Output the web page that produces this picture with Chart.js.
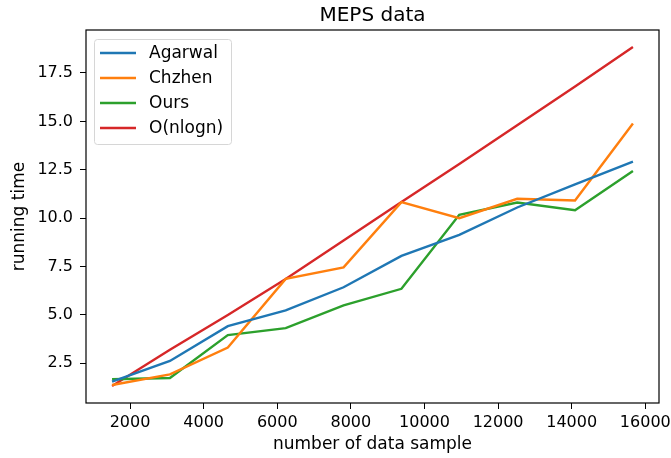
<!DOCTYPE html>
<html>
<head>
<meta charset="utf-8">
<script src="https://cdn.jsdelivr.net/npm/chart.js@4.4.1/dist/chart.umd.min.js"></script>
<style>
    html, body { margin: 0; padding: 0; background: white; }
    #wrap { width: 671px; height: 458px; }
</style>
</head>
<body>
<div id="wrap"><canvas id="chart" width="671" height="458"></canvas></div>
<script>
// number of data samples (x positions)
const samples = [1512, 3084, 4657, 6229, 7802, 9374, 10946, 12519, 14091, 15664];

const agarwal = [1.55, 2.62, 4.42, 5.23, 6.43, 8.05, 9.14, 10.55, 11.75, 12.92];
const chzhen = [1.38, 1.93, 3.31, 6.86, 7.46, 10.83, 10.0, 11.0, 10.91, 14.89];
const ours = [1.68, 1.74, 3.96, 4.32, 5.49, 6.35, 10.17, 10.81, 10.41, 12.44];
const nlogn = [1.33, 3.2, 5.0, 6.86, 8.85, 10.83, 12.8, 14.8, 16.8, 18.84];

const seriesNames = ['Agarwal', 'Chzhen', 'Ours', 'O(nlogn)'];
const seriesColors = ['#1f77b4', '#ff7f0e', '#2ca02c', '#d62728'];

const xTicks = [2000, 4000, 6000, 8000, 10000, 12000, 14000, 16000];
const yTicks = [2.5, 5.0, 7.5, 10.0, 12.5, 15.0, 17.5];

const chartTitle = 'MEPS data';

const FONT = 'DejaVu Sans';
Chart.defaults.font.family = FONT;
Chart.defaults.color = '#000';

function toPoints(values) {
    return values.map((v, i) => ({ x: samples[i], y: v }));
}

// frame around the plot area (matplotlib spines) + title centred on it
const framePlugin = {
    id: 'frame',
    afterDatasetsDraw(chart) {
        const { ctx, chartArea } = chart;
        ctx.save();
        ctx.strokeStyle = '#000';
        ctx.lineWidth = 1.2;
        ctx.strokeRect(chartArea.left, chartArea.top,
            chartArea.right - chartArea.left, chartArea.bottom - chartArea.top);

        ctx.font = `20px ${FONT}`;
        ctx.fillStyle = '#000';
        ctx.textAlign = 'center';
        ctx.textBaseline = 'alphabetic';
        ctx.fillText(chartTitle, (chartArea.left + chartArea.right) / 2, 21);
        ctx.restore();
    }
};

// legend box drawn inside the plot, upper left
const insideLegend = {
    id: 'insideLegend',
    afterDraw(chart) {
        const { ctx, chartArea } = chart;
        const left = chartArea.left + 8;
        const top = chartArea.top + 9;
        const w = 137, h = 105;
        ctx.save();
        ctx.beginPath();
        ctx.roundRect(left + 0.5, top + 0.5, w, h, 3);
        ctx.fillStyle = 'rgba(255,255,255,0.8)';
        ctx.fill();
        ctx.strokeStyle = '#d6d6d6';
        ctx.lineWidth = 1;
        ctx.stroke();

        ctx.font = `17px ${FONT}`;
        ctx.textBaseline = 'middle';
        ctx.textAlign = 'left';
        chart.data.datasets.forEach((ds, i) => {
            const y = top + 14 + i * 25;
            ctx.beginPath();
            ctx.moveTo(left + 6, y);
            ctx.lineTo(left + 42, y);
            ctx.strokeStyle = ds.borderColor;
            ctx.lineWidth = 2.4;
            ctx.stroke();
            ctx.fillStyle = '#000';
            ctx.fillText(ds.label, left + 55, y + 1);
        });
        ctx.restore();
    }
};

const allSeries = [agarwal, chzhen, ours, nlogn];

new Chart(document.getElementById('chart'), {
    type: 'line',
    data: {
        datasets: allSeries.map((values, i) => ({
            label: seriesNames[i],
            data: toPoints(values),
            borderColor: seriesColors[i],
            backgroundColor: seriesColors[i],
            borderWidth: 2.4,
            pointRadius: 0,
            tension: 0,
            fill: false
        }))
    },
    options: {
        responsive: false,
        animation: false,
        layout: { padding: { left: 0, right: 12, top: 30, bottom: 0 } },
        plugins: {
            legend: { display: false },
            tooltip: { enabled: false },
            title: { display: false }
        },
        scales: {
            x: {
                type: 'linear',
                min: 804,
                max: 16372,
                afterBuildTicks(scale) {
                    scale.ticks = xTicks.map(v => ({ value: v }));
                },
                afterFit(scale) {
                    scale.height = 55;
                    scale.paddingLeft = 0;
                    scale.paddingRight = 0;
                },
                ticks: {
                    font: { size: 16 },
                    padding: 4,
                    maxRotation: 0,
                    callback: v => String(v)
                },
                grid: {
                    drawOnChartArea: false,
                    tickLength: 6,
                    tickColor: '#000',
                    tickWidth: 1
                },
                border: { display: false },
                title: {
                    display: true,
                    text: 'number of data sample',
                    font: { size: 17 },
                    padding: { top: 0, bottom: 3 }
                }
            },
            y: {
                type: 'linear',
                min: 0.45,
                max: 19.72,
                afterBuildTicks(scale) {
                    scale.ticks = yTicks.map(v => ({ value: v }));
                },
                afterFit(scale) {
                    scale.width = 86;
                    scale.paddingTop = 0;
                    scale.paddingBottom = 0;
                },
                ticks: {
                    font: { size: 16 },
                    padding: 7,
                    callback: v => v.toFixed(1)
                },
                grid: {
                    drawOnChartArea: false,
                    tickLength: 6,
                    tickColor: '#000',
                    tickWidth: 1
                },
                border: { display: false },
                title: {
                    display: true,
                    text: 'running time',
                    font: { size: 17 },
                    padding: { top: 9, bottom: 0 }
                }
            }
        }
    },
    plugins: [framePlugin, insideLegend]
});
</script>
</body>
</html>
